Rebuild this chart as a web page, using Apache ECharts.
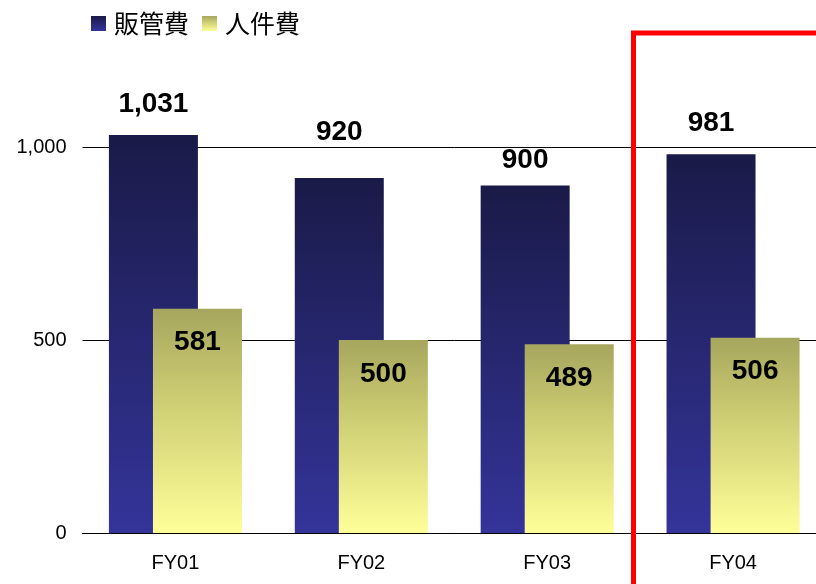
<!DOCTYPE html>
<html>
<head>
<meta charset="utf-8">
<script src="https://cdn.jsdelivr.net/npm/echarts@6/dist/echarts.min.js"></script>
<style>
html,body{margin:0;padding:0;background:#fff;overflow:hidden;width:816px;height:584px;}
#chart{width:826px;height:584px;}
</style>
</head>
<body>
<div id="chart"></div>
<script>
const categories = ['FY01', 'FY02', 'FY03', 'FY04'];
const sgaValues = [1031, 920, 900, 981];
const personnelValues = [581, 500, 489, 506];
const seriesNames = ['販管費', '人件費'];
const yTicks = [0, 500, 1000];
// gap (px) between each 販管費 bar top and its value label, as placed in the original
const sgaLabelGaps = [17, 32, 11, 17];

const chart = echarts.init(document.getElementById('chart'));
const navy = new echarts.graphic.LinearGradient(0, 0, 0, 1, [
  {offset: 0, color: '#1a1a48'},
  {offset: 1, color: '#34349a'}
]);
const yellow = new echarts.graphic.LinearGradient(0, 0, 0, 1, [
  {offset: 0, color: '#a6a65e'},
  {offset: 0.35, color: '#c8c870'},
  {offset: 1, color: '#ffff99'}
]);
const fmt = p => echarts.format.addCommas(p.value);

chart.setOption({
  animation: false,
  textStyle: {fontFamily: 'Liberation Sans, Arial, sans-serif'},
  legend: {
    left: 86, top: 6,
    icon: 'rect', itemWidth: 15, itemHeight: 15, itemGap: 13,
    textStyle: {fontSize: 25, color: '#000', fontFamily: 'Noto Sans CJK JP, sans-serif', padding: [0, 0, 0, 3]},
    data: seriesNames
  },
  grid: {left: 82.5, right: 0, top: 147, bottom: 51, containLabel: false},
  xAxis: {
    type: 'category',
    data: categories,
    axisLine: {lineStyle: {color: '#000', width: 1}},
    axisTick: {show: false},
    axisLabel: {fontSize: 20, color: '#000', margin: 20}
  },
  yAxis: {
    type: 'value',
    min: 0, max: 1000, interval: 500,
    axisLine: {show: false},
    axisTick: {show: false},
    splitLine: {lineStyle: {color: '#000', width: 1}},
    axisLabel: {
      fontSize: 20, color: '#000', margin: 16,
      formatter: v => yTicks.includes(v) ? echarts.format.addCommas(v) : ''
    }
  },
  series: [
    {
      name: seriesNames[0], type: 'bar', clip: false,
      data: sgaValues.map((v, i) => ({value: v, label: {distance: sgaLabelGaps[i]}})),
      barWidth: 89, barGap: '-50.5%',
      itemStyle: {color: navy},
      label: {show: true, position: 'top', fontSize: 28, fontWeight: 'bold', color: '#000', formatter: fmt}
    },
    {
      name: seriesNames[1], type: 'bar', data: personnelValues, clip: false,
      barWidth: 89, barGap: '-50.5%',
      itemStyle: {color: yellow},
      label: {show: true, position: 'insideTop', distance: 20, fontSize: 28, fontWeight: 'bold', color: '#000', formatter: fmt}
    }
  ],
  graphic: [{
    type: 'rect', z: 100,
    shape: {x: 633.5, y: 33, width: 400, height: 700},
    style: {fill: 'none', stroke: '#ff0000', lineWidth: 5}
  }]
});
</script>
</body>
</html>
